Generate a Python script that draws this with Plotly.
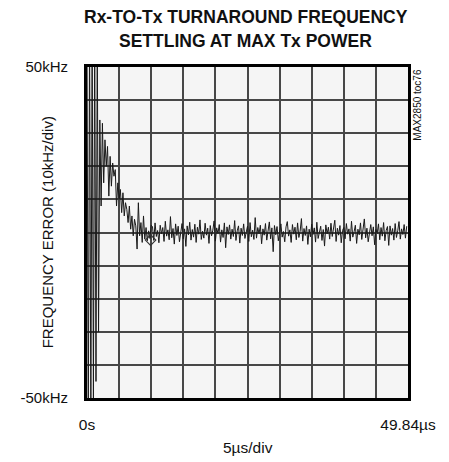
import plotly.graph_objects as go

# ---- data ----
SAMPLE_STEP_US = 0.2
freq_err_khz = [
    58, -62, 60, -58, 62, -50, 60, -45, 58, -30, 34,
    8, 33, 15, 28, 20, 26, 11, 23, 14, 21, 17, 19, 8, 15, 10, 13, 6, 12, 5, 9,
    7, 3, 8, 1, 5, -1, 4, 2, -5, 9, -1, 3, -3, 5, -2, 1.5, -2.5, 0.5, -1.8, 2.2,
    1.8, -2.4, 2.9, -1.2, 0.6, -3.1, 2.2, -0.4, 1.5, -2.7,
    3.4, -1.1, 0.8, -2.2, 4.8, -1.6, 1.2, -3.5, 2.6, -0.9,
    1.9, -2.8, 0.3, 2.7, -1.9, 1.1, -4.2, 2.0, -0.7, 3.1,
    -2.3, 0.9, -1.4, 2.5, -3.0, 1.6, -0.5, 3.8, -2.1, 0.4,
    -1.7, 2.8, -0.8, 1.3, -3.3, 2.1, -1.0, 0.7, 3.5, -2.6,
    1.4, -0.3, 2.4, -2.9, 0.8, -1.5, 2.9, -4.6, 1.7, -0.6,
    2.3, -2.0, 1.0, -1.2, 3.6, -2.4, 0.5, 2.0, -3.2, 1.3,
    -0.9, 2.6, -1.8, 0.2, 1.9, -2.7, 3.0, -1.3, 0.7, -2.1,
    4.5, -1.7, 1.5, -0.4, 2.2, -3.4, 1.1, -0.8, 2.7, -2.3,
    0.6, 3.2, -1.9, 1.4, -5.8, 2.1, -0.7, 1.8, -2.5, 0.9,
    2.6, -1.4, 0.3, -2.8, 1.7, 3.3, -1.1, 0.8, -3.0, 2.4,
    -0.5, 1.6, -2.2, 2.9, -1.5, 0.4, 4.2, -2.6, 1.2, -0.9,
    2.0, -3.6, 1.0, -1.3, 2.5, -0.6, 1.4, -2.9, 3.1, -1.8,
    0.5, 1.9, -2.4, 0.9, -4.1, 2.3, -0.4, 1.6, -2.0, 2.8,
    -1.2, 0.7, 3.7, -2.7, 1.3, -0.8, 2.1, -3.1, 0.6, 1.5,
    -1.9, 2.7, -0.5, 1.1, -2.6, 3.4, -1.4, 0.2, 2.2, -3.3,
    1.0, -0.7, 2.9, -2.1, 0.8, 4.1, -1.6, 1.3, -2.8, 0.4,
    2.4, -1.0, 1.7, -3.7, 0.9, -0.3, 2.6, -2.2, 1.5, -1.1,
    3.0, -2.5, 0.6, 1.8, -3.9, 2.0, -0.8, 1.2, -2.3, 2.7,
    -1.5, 0.5, 3.3, -2.0, 1.1, -0.6, 2.4, -1.7, 1.9,
]
time_us = [i * SAMPLE_STEP_US for i in range(len(freq_err_khz))]

marker_t = [9.9]
marker_f = [-2.3]

x_grid = [0, 5, 10, 15, 20, 25, 30, 35, 40, 45, 50]
x_ticktext = ["0s", "", "", "", "", "", "", "", "", "", "49.84µs"]
y_grid = [-50, -40, -30, -20, -10, 0, 10, 20, 30, 40, 50]
y_ticktext = ["-50kHz", "", "", "", "", "", "", "", "", "", "50kHz"]

FONT = "Liberation Sans, Arial, sans-serif"

fig = go.Figure()
fig.add_trace(go.Scatter(x=time_us, y=freq_err_khz, mode="lines",
                         line=dict(color="#1a1a1a", width=1), showlegend=False,
                         hoverinfo="skip"))
fig.add_trace(go.Scatter(x=marker_t, y=marker_f, mode="markers",
                         marker=dict(symbol="diamond-open", size=8, color="#333333",
                                     line=dict(width=1.2)), showlegend=False))

fig.update_layout(
    width=441, height=454,
    margin=dict(l=68, r=41, t=59, b=64),
    paper_bgcolor="white", plot_bgcolor="#f5f5f5",
    font=dict(family=FONT, size=15, color="#111111"),
    xaxis=dict(range=[0, 50], tickvals=x_grid, ticktext=x_ticktext,
               showgrid=True, gridcolor="#474747", gridwidth=1.8,
               zeroline=False, showline=True, linecolor="black", linewidth=3,
               mirror=True, ticks="", ticklabelstandoff=10, fixedrange=True,
               tickfont=dict(size=15.5)),
    yaxis=dict(range=[-50, 50], tickvals=y_grid, ticktext=y_ticktext,
               showgrid=True, gridcolor="#474747", gridwidth=1.8,
               zeroline=False, showline=True, linecolor="black", linewidth=3,
               mirror=True, ticks="", ticklabelstandoff=13, fixedrange=True),
    annotations=[
        dict(text="<b>Rx-TO-Tx TURNAROUND FREQUENCY</b>", xref="paper", yref="paper",
             x=0.494, y=1.152, showarrow=False, xanchor="center", yanchor="middle",
             font=dict(size=17.5)),
        dict(text="<b>SETTLING AT MAX Tx POWER</b>", xref="paper", yref="paper",
             x=0.494, y=1.080, showarrow=False, xanchor="center", yanchor="middle",
             font=dict(size=17.5)),
        dict(text="FREQUENCY ERROR (10kHz/div)", xref="paper", yref="paper",
             x=-0.1235, y=0.5015, textangle=-90, showarrow=False,
             xanchor="center", yanchor="middle", font=dict(size=15)),
        dict(text="5µs/div", xref="paper", yref="paper", x=0.5, y=-0.151,
             showarrow=False, xanchor="center", yanchor="middle",
             font=dict(size=15.5)),
        dict(text="MAX2850 toc76", xref="paper", yref="paper", x=1.027, y=1.0,
             textangle=-90, showarrow=False, xanchor="center", yanchor="top",
             font=dict(size=10)),
    ],
)

fig.write_html("out.html")
